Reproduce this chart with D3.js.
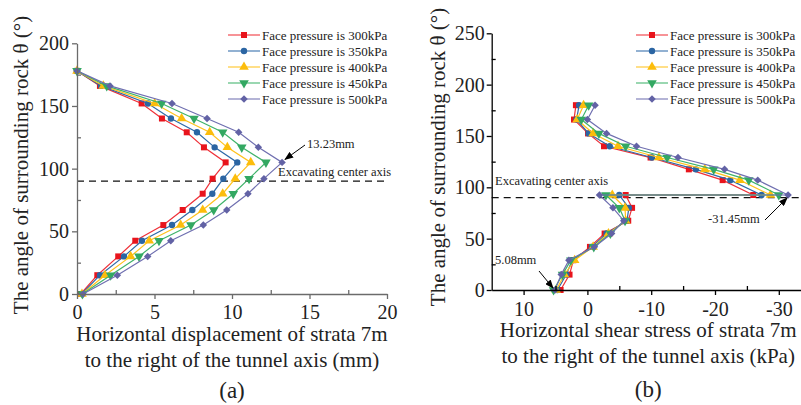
<!DOCTYPE html>
<html>
<head>
<meta charset="utf-8">
<script src="https://cdn.jsdelivr.net/npm/d3@7"></script>
<style>
  html, body { margin: 0; padding: 0; background: #fff; }
  svg { display: block; font-family: 'Liberation Serif', 'Times New Roman', serif; }
</style>
</head>
<body>
<div id="chart"></div>
<script>
// Series (shared by both panels)
const seriesNames = [
  'Face pressure is 300kPa', 'Face pressure is 350kPa', 'Face pressure is 400kPa',
  'Face pressure is 450kPa', 'Face pressure is 500kPa'
];
const lineColors = ['#ef3038', '#2f6aa8', '#ffc21c', '#3fb36a', '#6f6fb0'];
const markerColors = ['#e8141c', '#2b65a3', '#fcbd0c', '#33a862', '#6262a5'];
const markerShapes = ['square', 'circle', 'triangle', 'triangleDown', 'diamond'];

// (a) horizontal displacement (mm) vs angle (deg)
const anglesA = [0, 15, 30, 42.5, 55, 67, 80, 92, 105, 117, 129, 140, 152, 166, 178];
const dispA300 = [0.24, 1.31, 2.66, 3.76, 5.57, 6.82, 8.11, 8.75, 9.59, 8.19, 7.08, 5.48, 4.17, 1.48, 0];
const dispA350 = [0.30, 1.48, 3.03, 4.19, 6.13, 7.44, 8.73, 9.44, 10.34, 8.88, 7.74, 6.06, 4.58, 1.55, 0];
const dispA400 = [0.32, 1.81, 3.46, 4.66, 6.69, 8.11, 9.40, 10.21, 11.21, 9.70, 8.56, 6.75, 5.01, 1.70, 0];
const dispA450 = [0.35, 2.17, 4.00, 5.29, 7.35, 8.82, 10.08, 11.10, 12.19, 10.63, 9.40, 7.55, 5.46, 1.92, 0];
const dispA500 = [0.39, 2.60, 4.56, 6.05, 8.15, 9.66, 11.03, 12.06, 13.23, 11.70, 10.43, 8.39, 6.13, 2.13, 0];
const xTicksA = [0, 5, 10, 15, 20];
const xMinorA = [2.5, 7.5, 12.5, 17.5];
const yTicksA = [0, 50, 100, 150, 200];
const yMinorA = [25, 75, 125, 175];

// (b) horizontal shear stress (kPa) vs angle (deg)
const anglesB = [0, 15, 29, 42, 55, 67.5, 80, 92.5, 92.5, 107, 117.5, 129, 140, 152.5, 166, 180];
const shearB300 = [4.2, 2.8, 2.2, -0.4, -2.7, -6.4, -7.0, -6.0, -26.0, -21.2, -15.9, -9.9, -2.6, -0.1, 2.1, 1.8];
const shearB350 = [4.7, 3.3, 2.4, -0.7, -3.0, -6.2, -6.5, -5.0, -27.3, -22.4, -17.0, -10.1, -3.5, -0.2, 1.7, 1.3];
const shearB400 = [4.9, 3.6, 2.0, -0.9, -3.3, -6.0, -5.9, -3.9, -28.7, -23.9, -18.4, -11.2, -4.8, -0.9, 1.6, 0.6];
const shearB450 = [5.3, 3.9, 2.6, -1.0, -3.6, -5.9, -5.0, -2.9, -30.0, -25.3, -19.8, -12.5, -6.0, -1.8, 0.95, -0.2];
const shearB500 = [5.08, 4.1, 2.9, -1.1, -3.8, -5.7, -4.0, -1.9, -31.45, -26.7, -21.5, -14.2, -7.7, -3.0, 0.0, -1.2];
const xTicksB = [10, 0, -10, -20, -30];
const xMinorB = [5, -5, -15, -25];
const yTicksB = [0, 50, 100, 150, 200, 250];
const yMinorB = [25, 75, 125, 175, 225];

const centerAngle = 90;

const width = 801;
const height = 405;

const svg = d3.select('#chart')
  .append('svg')
  .attr('width', width)
  .attr('height', height)
  .attr('font-family', 'Liberation Serif, Times New Roman, serif');

svg.append('rect')
  .attr('width', width)
  .attr('height', height)
  .attr('fill', '#fff');

// arrow head for annotations
svg.append('defs')
  .append('marker')
  .attr('id', 'arrow')
  .attr('markerUnits', 'userSpaceOnUse')
  .attr('markerWidth', 9)
  .attr('markerHeight', 7)
  .attr('refX', 8)
  .attr('refY', 3.5)
  .attr('orient', 'auto')
  .append('path')
  .attr('d', 'M0,0 L9,3.5 L0,7 Z')
  .attr('fill', '#000');

function markerPath(shape) {
  switch (shape) {
    case 'square': return d3.symbol().type(d3.symbolSquare).size(36)();
    case 'circle': return d3.symbol().type(d3.symbolCircle).size(32)();
    case 'triangle':
    case 'triangleDown': return d3.symbol().type(d3.symbolTriangle).size(40)();
    default: return d3.symbol().type(d3.symbolSquare).size(28)();
  }
}

function markerRotate(shape) {
  if (shape === 'triangleDown') return 180;
  if (shape === 'diamond') return 45;
  return 0;
}

function drawPanel(cfg) {
  const g = svg.append('g');
  const x = cfg.x;
  const y = cfg.y;

  // excavating center axis
  g.append('line')
    .attr('x1', x.range()[0])
    .attr('x2', cfg.dashEnd)
    .attr('y1', y(centerAngle))
    .attr('y2', y(centerAngle))
    .attr('stroke', '#111')
    .attr('stroke-width', 1.3)
    .attr('stroke-dasharray', '7 5');

  // series lines + markers
  const line = d3.line()
    .x(d => x(d.v))
    .y(d => y(d.a));

  cfg.series.forEach((vals, i) => {
    const pts = vals.map((v, k) => ({ v: v, a: cfg.angles[k] }));
    g.append('path')
      .datum(pts)
      .attr('fill', 'none')
      .attr('stroke', lineColors[i])
      .attr('stroke-width', 1.2)
      .attr('d', line);

    g.selectAll('.m' + i)
      .data(pts)
      .enter()
      .append('path')
      .attr('d', markerPath(markerShapes[i]))
      .attr('transform', d => `translate(${x(d.v)},${y(d.a)}) rotate(${markerRotate(markerShapes[i])})`)
      .attr('fill', markerColors[i]);
  });

  // axes
  const x0 = x.range()[0];
  const y0 = y.range()[0];
  const fmt = d => String(d);

  const xAxis = g.append('g')
    .attr('transform', `translate(0,${y0})`)
    .call(d3.axisBottom(x).tickValues(cfg.xTicks).tickFormat(fmt).tickSize(5).tickPadding(cfg.xPad).tickSizeOuter(0));
  g.append('g')
    .attr('transform', `translate(0,${y0})`)
    .call(d3.axisBottom(x).tickValues(cfg.xMinor).tickSize(-4).tickFormat('').tickSizeOuter(0))
    .select('.domain').remove();

  const yAxis = g.append('g')
    .attr('transform', `translate(${x0},0)`)
    .call(d3.axisLeft(y).tickValues(cfg.yTicks).tickFormat(fmt).tickSize(5).tickPadding(cfg.yPad).tickSizeOuter(0));
  g.append('g')
    .attr('transform', `translate(${x0},0)`)
    .call(d3.axisLeft(y).tickValues(cfg.yMinor).tickSize(-4).tickFormat('').tickSizeOuter(0))
    .select('.domain').remove();

  g.selectAll('.domain, .tick line')
    .attr('stroke', cfg.axisColor)
    .attr('stroke-width', 1.3);
  [xAxis, yAxis].forEach(a => a
    .attr('font-family', 'Liberation Serif, Times New Roman, serif')
    .attr('font-size', 20)
    .selectAll('text')
    .attr('fill', '#222'));

  // axis titles
  const xc = (x.range()[0] + x.range()[1]) / 2 + cfg.titleShift;
  cfg.xTitle.forEach((t, k) => {
    g.append('text')
      .attr('x', xc)
      .attr('y', cfg.xTitleY[k])
      .attr('text-anchor', 'middle')
      .attr('font-size', 21)
      .attr('fill', '#222')
      .text(t);
  });

  g.append('text')
    .attr('transform', `translate(${cfg.yTitlePos[0]},${cfg.yTitlePos[1]}) rotate(-90)`)
    .attr('text-anchor', 'middle')
    .attr('font-size', 21)
    .attr('fill', '#222')
    .text('The angle of surrounding rock θ (°)');

  g.append('text')
    .attr('x', xc)
    .attr('y', cfg.labelY)
    .attr('text-anchor', 'middle')
    .attr('font-size', 23)
    .attr('fill', '#222')
    .text(cfg.label);

  // legend
  const lg = g.append('g').attr('transform', `translate(${cfg.legend[0]},${cfg.legend[1]})`);
  seriesNames.forEach((name, i) => {
    const row = lg.append('g').attr('transform', `translate(0,${i * 16})`);
    row.append('line')
      .attr('x1', 0).attr('x2', 32)
      .attr('stroke', lineColors[i])
      .attr('stroke-opacity', 0.75)
      .attr('stroke-width', 1.4);
    row.append('path')
      .attr('d', markerPath(markerShapes[i]))
      .attr('transform', `translate(16,0) rotate(${markerRotate(markerShapes[i])})`)
      .attr('fill', markerColors[i]);
    row.append('text')
      .attr('x', 34)
      .attr('y', 4.5)
      .attr('font-size', 13)
      .attr('fill', '#222')
      .text(name);
  });

  // annotations
  g.append('text')
    .attr('x', cfg.axisText[0])
    .attr('y', cfg.axisText[1])
    .attr('font-size', 12.5)
    .attr('fill', '#222')
    .text('Excavating center axis');

  cfg.notes.forEach(n => {
    const px = x(n.v) + n.tip[0];
    const py = y(n.a) + n.tip[1];
    g.append('line')
      .attr('x1', n.from[0]).attr('y1', n.from[1])
      .attr('x2', px).attr('y2', py)
      .attr('stroke', '#000')
      .attr('stroke-width', 1)
      .attr('marker-end', 'url(#arrow)');
    g.append('text')
      .attr('x', n.text[0])
      .attr('y', n.text[1])
      .attr('font-size', 12.5)
      .attr('fill', '#222')
      .text(n.label);
  });
}

// Panel (a)
drawPanel({
  x: d3.scaleLinear().domain([0, 20]).range([77, 387]),
  y: d3.scaleLinear().domain([0, 200]).range([294, 43.3]),
  angles: anglesA,
  series: [dispA300, dispA350, dispA400, dispA450, dispA500],
  xTicks: xTicksA, xMinor: xMinorA, yTicks: yTicksA, yMinor: yMinorA,
  xPad: 6, yPad: 3,
  axisColor: '#6b6b6b',
  dashEnd: 389,
  xTitle: ['Horizontal displacement of strata 7m', 'to the right of the tunnel axis (mm)'],
  xTitleY: [341, 367],
  titleShift: 0,
  yTitlePos: [28, 165],
  label: '(a)', labelY: 398,
  legend: [228, 35],
  axisText: [278, 176],
  notes: [{ v: 13.23, a: 105, tip: [3, -3], from: [305, 145], text: [307, 148], label: '13.23mm' }]
});

// Panel (b)
drawPanel({
  x: d3.scaleLinear().domain([15, -35]).range([491.7, 810.7]),
  y: d3.scaleLinear().domain([0, 250]).range([290, 33.3]),
  angles: anglesB,
  series: [shearB300, shearB350, shearB400, shearB450, shearB500],
  xTicks: xTicksB, xMinor: xMinorB, yTicks: yTicksB, yMinor: yMinorB,
  xPad: 7, yPad: 2,
  axisColor: '#000',
  dashEnd: 801,
  xTitle: ['Horizontal shear stress of strata 7m', 'to the right of the tunnel axis (kPa)'],
  xTitleY: [337, 363],
  titleShift: -3,
  yTitlePos: [445, 157],
  label: '(b)', labelY: 397,
  legend: [636, 35],
  axisText: [495, 185],
  notes: [
    { v: -31.45, a: 92.5, tip: [-1, 3], from: [765, 220], text: [708, 223], label: '-31.45mm' },
    { v: 5.08, a: 0, tip: [-2, -2], from: [539, 271], text: [495, 264], label: '5.08mm' }
  ]
});
</script>
</body>
</html>
